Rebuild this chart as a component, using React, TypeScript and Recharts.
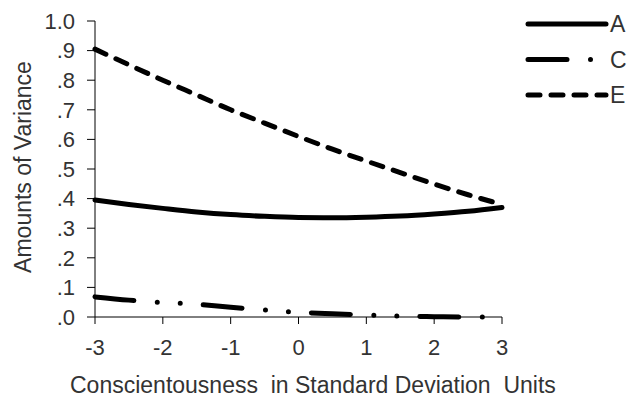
import { LineChart, Line, XAxis, YAxis } from 'recharts';

const xValues = [-3, -2.5, -2, -1.5, -1, -0.5, 0, 0.5, 1, 1.5, 2, 2.5, 3];
const aValues = [0.395, 0.38, 0.367, 0.355, 0.346, 0.34, 0.336, 0.335, 0.337, 0.341, 0.348, 0.357, 0.37];
const cValues = [0.068, 0.057, 0.049, 0.043, 0.033, 0.024, 0.016, 0.011, 0.007, 0.003, 0.001, 0, 0];
const eValues = [0.905, 0.852, 0.8, 0.75, 0.7, 0.655, 0.61, 0.567, 0.527, 0.488, 0.449, 0.413, 0.38];

const xTicks = [-3, -2, -1, 0, 1, 2, 3];
const yTicks = [0, 0.1, 0.2, 0.3, 0.4, 0.5, 0.6, 0.7, 0.8, 0.9, 1.0];

const data = xValues.map((x, i) => ({ x, A: aValues[i], C: cValues[i], E: eValues[i] }));

const series = [
  { key: 'A', dash: undefined as string | undefined },
  { key: 'C', dash: '39 23.5 0 23 0 23' },
  { key: 'E', dash: '12 11' },
];

const FONT = '"Liberation Sans", Arial, sans-serif';
const TEXT = '#333';

const yFmt = (v: number) => (v === 1 ? '1.0' : '.' + Math.round(v * 10));

type VB = { x: number; y: number; width: number; height: number };

function YLabel({ viewBox }: { viewBox?: VB }) {
  if (!viewBox) return null;
  const cx = viewBox.x + 31;
  const cy = viewBox.y + viewBox.height / 2 - 2;
  return (
    <text x={cx} y={cy} transform={`rotate(-90 ${cx} ${cy})`} textAnchor="middle" fill={TEXT} fontSize={23} fontFamily={FONT}>
      Amounts of Variance
    </text>
  );
}

function XLabel({ viewBox }: { viewBox?: VB }) {
  if (!viewBox) return null;
  return (
    <text x={viewBox.x - 25} y={viewBox.y + viewBox.height - 10} textAnchor="start" fill={TEXT} fontSize={23} fontFamily={FONT} style={{ whiteSpace: 'pre' }}>
      {'Conscientousness\u00a0\u00a0in Standard Deviation\u00a0\u00a0Units'}
    </text>
  );
}

export default function App() {
  return (
    <div style={{ position: 'absolute', left: 0, top: 0, width: 631, height: 403, background: '#fff' }}>
      <LineChart width={631} height={403} data={data} margin={{ top: 21, right: 129, bottom: 0, left: 0 }}>
        <XAxis
          dataKey="x"
          type="number"
          domain={[-3, 3]}
          ticks={xTicks}
          interval={0}
          tickSize={7}
          tickMargin={15}
          height={86}
          axisLine={{ stroke: '#000' }}
          tickLine={{ stroke: '#000' }}
          tick={{ fill: TEXT, fontSize: 22, fontFamily: FONT }}
          label={<XLabel />}
        />
        <YAxis
          type="number"
          domain={[0, 1]}
          ticks={yTicks}
          interval={0}
          width={95}
          tickSize={8}
          tickMargin={12}
          tickFormatter={yFmt}
          axisLine={{ stroke: '#000' }}
          tickLine={{ stroke: '#000' }}
          tick={{ fill: TEXT, fontSize: 22, fontFamily: FONT }}
          label={<YLabel />}
        />
        {series.map((s) => (
          <Line
            key={s.key}
            dataKey={s.key}
            type="monotone"
            stroke="#000"
            strokeWidth={5}
            strokeDasharray={s.dash}
            strokeLinecap="round"
            dot={false}
            activeDot={false}
            isAnimationActive={false}
          />
        ))}
      </LineChart>
      <svg width={111} height={120} style={{ position: 'absolute', left: 520, top: 0 }}>
        {series.map((s, i) => {
          const y = [24, 59.5, 95][i];
          return (
            <g key={s.key}>
              <line x1={8} x2={86} y1={y} y2={y} stroke="#000" strokeWidth={5} strokeDasharray={s.dash} strokeLinecap="round" />
              <text x={90} y={y} dominantBaseline="central" fill={TEXT} fontSize={23} fontFamily={FONT}>
                {s.key}
              </text>
            </g>
          );
        })}
      </svg>
    </div>
  );
}
